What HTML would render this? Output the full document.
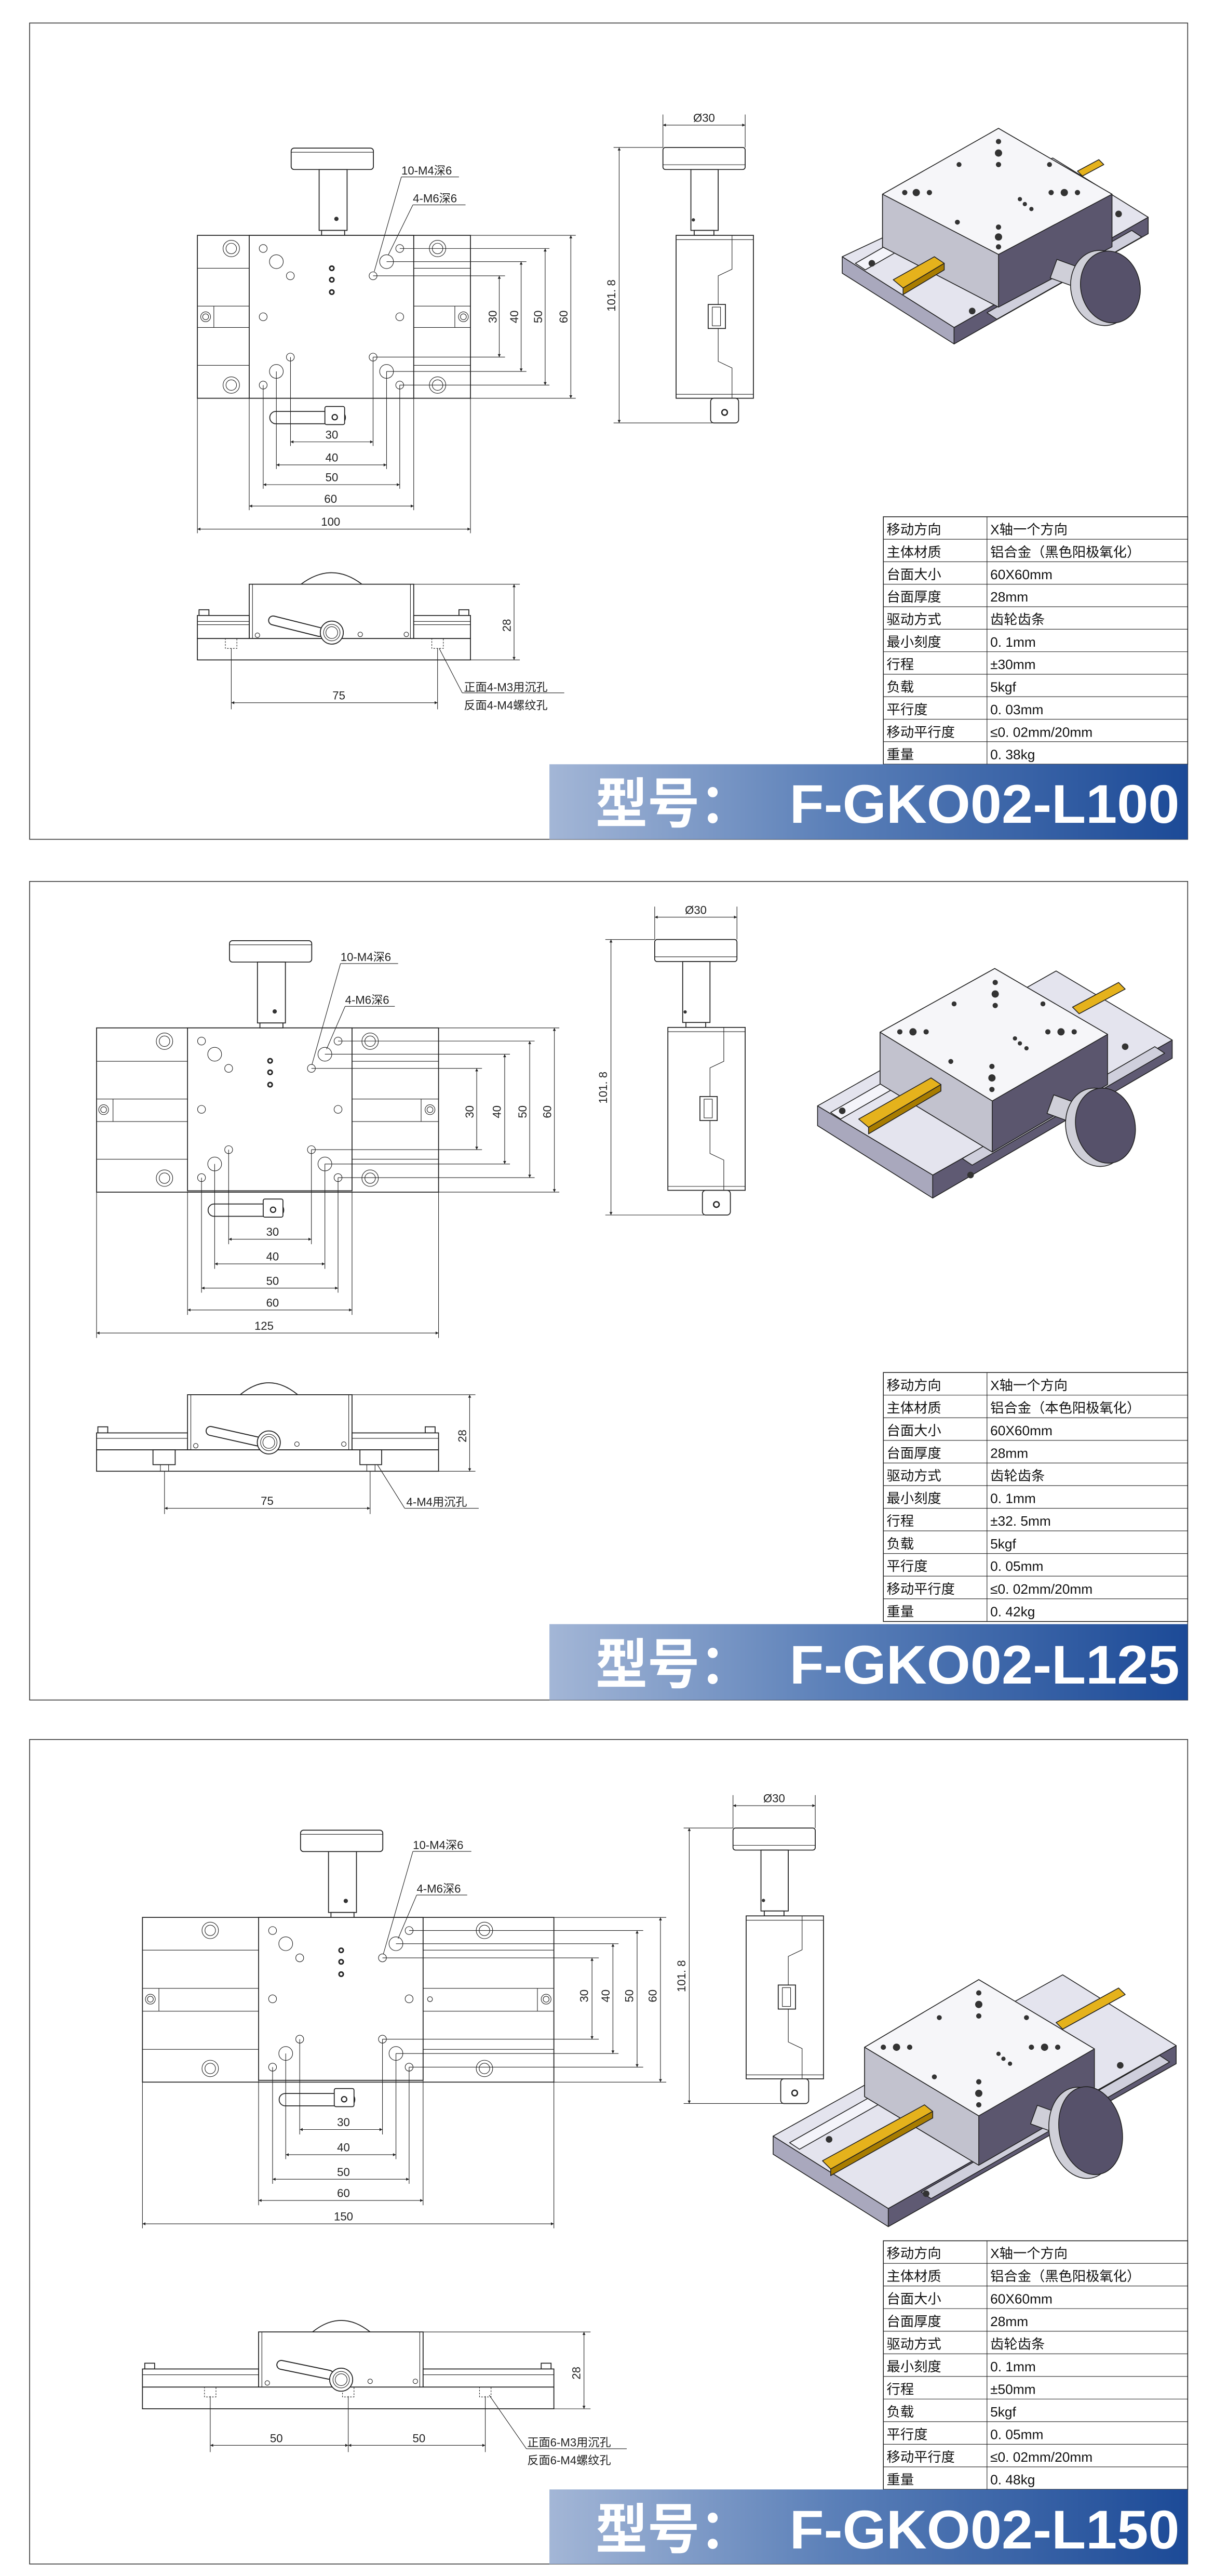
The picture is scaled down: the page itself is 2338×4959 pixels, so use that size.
<!DOCTYPE html>
<html><head><meta charset="utf-8"><style>
html,body{margin:0;padding:0;background:#fff}
svg{display:block}
.t{font-family:"Liberation Sans Narrow","Liberation Sans","Noto Sans CJK SC",sans-serif;font-size:7px;fill:#222}
.c{font-family:"Liberation Sans","Noto Sans CJK SC",sans-serif;font-size:8.3px;fill:#111}
.v{font-family:"Liberation Sans Narrow","Liberation Sans","Noto Sans CJK SC",sans-serif;font-size:8.3px;fill:#111}
.ln{stroke:#222;stroke-width:.35;fill:none}
.ol{stroke:#222;stroke-width:.55;fill:#fff}
.dm{stroke:#222;stroke-width:.35;fill:none;marker-start:url(#ar);marker-end:url(#ar)}
.bn{font-family:"Liberation Sans","Noto Sans CJK SC",sans-serif;font-weight:bold;font-size:33px;fill:#fff}
</style></head><body>
<svg width="2338" height="4959" viewBox="0 0 738 1565.3" preserveAspectRatio="none" xmlns="http://www.w3.org/2000/svg">
<defs>
<marker id="ar" viewBox="0 0 10 10" refX="10" refY="5" markerWidth="3.6" markerHeight="1.8" markerUnits="userSpaceOnUse" orient="auto-start-reverse"><path d="M0,0L10,5L0,10z" fill="#222"/></marker>
<linearGradient id="bg" x1="0" x2="1" y1="0" y2="0"><stop offset="0" stop-color="#a3b6d6"/><stop offset=".45" stop-color="#5a7fb8"/><stop offset="1" stop-color="#1c4a97"/></linearGradient>
<g id="stg">
<rect x="0" y="0" width="100" height="99" class="ol"/>
<g class="ln" stroke-width=".45">
<circle cx="8.5" cy="8" r="2.4"/><circle cx="91.5" cy="8" r="2.4"/>
<circle cx="25" cy="24.6" r="2.4"/><circle cx="75.3" cy="24.6" r="2.4"/>
<circle cx="8.5" cy="49.5" r="2.4"/><circle cx="91.5" cy="49.5" r="2.4"/>
<circle cx="25" cy="74" r="2.4"/><circle cx="75.3" cy="74" r="2.4"/>
<circle cx="8.5" cy="91" r="2.4"/><circle cx="91.5" cy="91" r="2.4"/>
<circle cx="16.5" cy="16" r="4.2"/><circle cx="83.5" cy="16" r="4.2"/>
<circle cx="16.5" cy="82.7" r="4.2"/><circle cx="83.5" cy="82.7" r="4.2"/>
</g>
<g fill="none" stroke="#222" stroke-width=".9"><circle cx="50.2" cy="20" r="1.3"/><circle cx="50.2" cy="27" r="1.3"/><circle cx="50.2" cy="34.5" r="1.3"/></g>
</g>
<g id="knb">
<rect x="25.5" y="-53" width="50" height="13" rx="1.8" class="ol"/>
<line x1="25.5" y1="-50.5" x2="75.5" y2="-50.5" class="ln"/>
<rect x="42.5" y="-40" width="17" height="37" class="ol"/>
<rect x="44" y="-3" width="14" height="3" class="ol"/>
<circle cx="53" cy="-10" r="1.3" fill="#333"/>
<rect x="12.5" y="107" width="46" height="7.5" rx="3.7" class="ol"/>
<rect x="46" y="104" width="12" height="11" rx="1" class="ol"/>
<circle cx="52" cy="110.5" r="1.6" fill="none" stroke="#222" stroke-width=".7"/>
</g>
<g id="sv">
<rect x="0" y="0" width="50" height="13.4" rx="1.5" class="ol"/>
<line x1="0" y1="10.5" x2="50" y2="10.5" class="ln"/>
<rect x="17" y="13.4" width="16.6" height="37" class="ol"/>
<rect x="19" y="50.4" width="12" height="3" class="ol"/>
<circle cx="18.5" cy="44" r="1" fill="#333"/>
<rect x="8" y="53.4" width="47" height="99" class="ol"/>
<line x1="8" y1="56" x2="55" y2="56" class="ln"/><line x1="8" y1="150" x2="55" y2="150" class="ln"/>
<polyline points="42,53.4 42,74 33.6,78 33.6,130 42,134 42,152.4" class="ln"/>
<rect x="27.5" y="95.4" width="10.5" height="14.6" class="ol"/><rect x="30" y="97" width="5" height="11.4" class="ln"/>
<rect x="29" y="152.4" width="17" height="15" rx="2" class="ol"/>
<circle cx="37.5" cy="161" r="1.7" fill="none" stroke="#222" stroke-width=".8"/>
<line x1="0" y1="-20" x2="0" y2="0" class="ln"/><line x1="50" y1="-20" x2="50" y2="0" class="ln"/>
<line x1="0" y1="-13.6" x2="50" y2="-13.6" class="dm"/>
<text x="25" y="-15.6" class="t" text-anchor="middle">Ø30</text>
<line x1="-30" y1="0" x2="0" y2="0" class="ln"/><line x1="-30" y1="167.4" x2="30" y2="167.4" class="ln"/>
<line x1="-26.6" y1="0" x2="-26.6" y2="167.4" class="dm"/>
<text transform="translate(-29,90) rotate(-90)" class="t" text-anchor="middle">101. 8</text>
</g>
</defs>
<rect width="738" height="1565.3" fill="#fff"/>

<!-- ================= PANEL 1 ================= -->
<rect x="18" y="14" width="704" height="496" fill="none" stroke="#333" stroke-width=".5"/>
<!-- top view -->
<rect x="120" y="143" width="166" height="99" class="ol"/>
<g class="ln"><line x1="120" y1="163" x2="151.5" y2="163"/><line x1="120" y1="186" x2="151.5" y2="186"/><line x1="120" y1="199" x2="151.5" y2="199"/><line x1="120" y1="222" x2="151.5" y2="222"/>
<line x1="251.5" y1="163" x2="286" y2="163"/><line x1="251.5" y1="186" x2="286" y2="186"/><line x1="251.5" y1="199" x2="286" y2="199"/><line x1="251.5" y1="222" x2="286" y2="222"/>
<line x1="130" y1="186" x2="130" y2="199"/><line x1="276.5" y1="186" x2="276.5" y2="199"/>
<circle cx="125" cy="192.5" r="3"/><circle cx="125" cy="192.5" r="1.8"/><circle cx="281.7" cy="192.5" r="3"/><circle cx="281.7" cy="192.5" r="1.8"/>
<circle cx="140.6" cy="151" r="5"/><circle cx="140.6" cy="151" r="3.2"/><circle cx="266" cy="151" r="5"/><circle cx="266" cy="151" r="3.2"/>
<circle cx="140.6" cy="234" r="5"/><circle cx="140.6" cy="234" r="3.2"/><circle cx="266" cy="234" r="5"/><circle cx="266" cy="234" r="3.2"/></g>
<use href="#stg" x="151.5" y="143"/><use href="#knb" x="151.5" y="143"/>
<g class="ln">
<line x1="226.8" y1="167.6" x2="307" y2="167.6"/><line x1="226.8" y1="217" x2="307" y2="217"/>
<line x1="235" y1="159" x2="320" y2="159"/><line x1="235" y1="225.7" x2="320" y2="225.7"/>
<line x1="243" y1="151" x2="334" y2="151"/><line x1="243" y1="234" x2="334" y2="234"/>
<line x1="286" y1="143" x2="350" y2="143"/><line x1="286" y1="242" x2="350" y2="242"/>
<line x1="176.6" y1="217" x2="176.6" y2="271"/><line x1="226.8" y1="217" x2="226.8" y2="271"/>
<line x1="168" y1="225.7" x2="168" y2="285"/><line x1="235" y1="225.7" x2="235" y2="285"/>
<line x1="160" y1="234" x2="160" y2="297"/><line x1="243" y1="234" x2="243" y2="297"/>
<line x1="151.5" y1="242" x2="151.5" y2="310"/><line x1="251.5" y1="242" x2="251.5" y2="310"/>
<line x1="120" y1="242" x2="120" y2="324"/><line x1="286" y1="242" x2="286" y2="324"/>
</g>
<line x1="303.5" y1="167.6" x2="303.5" y2="217" class="dm"/><line x1="316.8" y1="159" x2="316.8" y2="225.7" class="dm"/>
<line x1="331.4" y1="151" x2="331.4" y2="234" class="dm"/><line x1="347" y1="143" x2="347" y2="242" class="dm"/>
<text transform="translate(302,192.5) rotate(-90)" class="t" text-anchor="middle">30</text>
<text transform="translate(315,192.5) rotate(-90)" class="t" text-anchor="middle">40</text>
<text transform="translate(329.5,192.5) rotate(-90)" class="t" text-anchor="middle">50</text>
<text transform="translate(345,192.5) rotate(-90)" class="t" text-anchor="middle">60</text>
<line x1="176.6" y1="268.5" x2="226.8" y2="268.5" class="dm"/><line x1="168" y1="282.5" x2="235" y2="282.5" class="dm"/>
<line x1="160" y1="294.5" x2="243" y2="294.5" class="dm"/><line x1="151.5" y1="307.5" x2="251.5" y2="307.5" class="dm"/>
<line x1="120" y1="321.5" x2="286" y2="321.5" class="dm"/>
<text x="201.7" y="266.5" class="t" text-anchor="middle">30</text><text x="201.7" y="280.5" class="t" text-anchor="middle">40</text>
<text x="201.7" y="292.5" class="t" text-anchor="middle">50</text><text x="201" y="305.5" class="t" text-anchor="middle">60</text>
<text x="201" y="319.5" class="t" text-anchor="middle">100</text>
<text x="244" y="106" class="t">10-M4深6</text><line x1="244" y1="107.5" x2="279" y2="107.5" class="ln"/><line x1="244" y1="107.5" x2="227.5" y2="165" class="ln"/>
<text x="251" y="123" class="t">4-M6深6</text><line x1="251" y1="124.5" x2="283" y2="124.5" class="ln"/><line x1="251" y1="124.5" x2="236" y2="155" class="ln"/>
<!-- side view -->
<use href="#sv" x="403" y="89.6"/>
<!-- front view -->
<path d="M183,355 Q201.7,341 220,355" class="ol"/>
<rect x="151.5" y="355" width="100" height="33" class="ol"/>
<line x1="153.5" y1="355" x2="153.5" y2="388" class="ln"/><line x1="249.5" y1="355" x2="249.5" y2="388" class="ln"/>
<rect x="121" y="370.5" width="6" height="3.5" class="ol"/><rect x="279" y="370.5" width="6" height="3.5" class="ol"/>
<rect x="120" y="374" width="31.5" height="14" class="ol"/><rect x="251.5" y="374" width="34.5" height="14" class="ol"/>
<line x1="120" y1="377.6" x2="151.5" y2="377.6" class="ln"/><line x1="251.5" y1="377.6" x2="286" y2="377.6" class="ln"/>
<line x1="120" y1="379.6" x2="151.5" y2="379.6" class="ln"/><line x1="251.5" y1="379.6" x2="286" y2="379.6" class="ln"/>
<rect x="120" y="388" width="166" height="13" class="ol"/>
<g class="ln" stroke-dasharray="1 .8"><rect x="137" y="388" width="7" height="6"/><rect x="262.5" y="388" width="7" height="6"/></g>
<line x1="166" y1="377" x2="194" y2="384" stroke="#222" stroke-width="6" stroke-linecap="round"/><line x1="166" y1="377" x2="194" y2="384" stroke="#fff" stroke-width="4.8" stroke-linecap="round"/>
<circle cx="201.7" cy="384.4" r="7" class="ol"/><circle cx="201.7" cy="384.4" r="5" class="ln"/><circle cx="201.7" cy="384.4" r="3.6" class="ln"/>
<circle cx="156.5" cy="386" r="1.4" class="ln"/><circle cx="219" cy="385.5" r="1.4" class="ln"/><circle cx="247" cy="385.5" r="1.4" class="ln"/>
<line x1="251.5" y1="355" x2="316" y2="355" class="ln"/><line x1="286" y1="401" x2="316" y2="401" class="ln"/>
<line x1="312.5" y1="355" x2="312.5" y2="401" class="dm"/>
<text transform="translate(310.5,380) rotate(-90)" class="t" text-anchor="middle">28</text>
<line x1="140.6" y1="394" x2="140.6" y2="431" class="ln"/><line x1="266" y1="394" x2="266" y2="431" class="ln"/>
<line x1="140.6" y1="427" x2="266" y2="427" class="dm"/><text x="206" y="425" class="t" text-anchor="middle">75</text>
<line x1="267" y1="394" x2="281" y2="421" class="ln"/><line x1="281" y1="421" x2="343" y2="421" class="ln"/>
<text x="282" y="420" class="t">正面4-M3用沉孔</text><text x="282" y="431" class="t">反面4-M4螺纹孔</text>
<!-- 3D -->
<g stroke="#222" stroke-width=".5" stroke-linejoin="round">
<polygon points="512,156 580,199 580,209 512,166" fill="#a9a8bd"/>
<polygon points="580,199 698,132 698,142 580,209" fill="#5f5a73"/>
<polygon points="512,156 580,199 698,132 640,96" fill="#e4e4ee"/>
<polygon points="520,160 560,137 566,141 526,164" fill="#f4f4fa"/><polygon points="600,190 688,140 694,144 606,194" fill="#cfcfdc"/>
<polygon points="607,78 676,118 676,150 607,186.6 536.5,150 536.5,118" fill="#5b566e"/>
<polygon points="536.5,118 607,154.6 607,186.6 536.5,150" fill="#c2c2ce"/>
<polygon points="607,78 676,118 607,154.6 536.5,118" fill="#f6f6f9"/>
<polygon points="543,170 568,156 574,160 549,175" fill="#e5b21c"/><polygon points="549,175 574,160 574,164 549,179" fill="#a87c00"/>
<polygon points="655,104 668,97 671,100 658,107" fill="#e5b21c"/>
<rect x="640" y="160" width="16" height="12" fill="#cfcfd8" transform="rotate(20 648 166)"/>
<ellipse cx="670" cy="175" rx="19" ry="23" fill="#cfcfd8" transform="rotate(-12 670 175)"/>
<ellipse cx="675" cy="174.4" rx="18" ry="22" fill="#56516a" transform="rotate(-12 675 174.4)"/>
</g>
<g fill="#333"><circle cx="607" cy="86" r="1.6"/><circle cx="607" cy="93" r="2.2"/><circle cx="607" cy="100" r="1.6"/>
<circle cx="550" cy="117" r="1.6"/><circle cx="557" cy="117" r="2.2"/><circle cx="565" cy="117" r="1.6"/>
<circle cx="639" cy="117" r="1.6"/><circle cx="647" cy="117" r="2.2"/><circle cx="655" cy="117" r="1.6"/>
<circle cx="620" cy="121" r="1.3"/><circle cx="623" cy="124" r="1.3"/><circle cx="627" cy="127" r="1.3"/>
<circle cx="583" cy="100" r="1.5"/><circle cx="638" cy="100" r="1.5"/><circle cx="582" cy="135" r="1.5"/>
<circle cx="607" cy="138" r="1.6"/><circle cx="607" cy="144" r="2.2"/><circle cx="607" cy="150" r="1.6"/>
<circle cx="530" cy="160" r="2"/><circle cx="591" cy="189" r="2"/><circle cx="680" cy="130" r="2"/></g>
<!-- table -->
<g>
<rect x="537" y="314" width="185" height="150.4" fill="#fff" stroke="#222" stroke-width=".5"/>
<g class="ln" stroke-width=".45">
<line x1="537" y1="327.67" x2="722" y2="327.67"/><line x1="537" y1="341.34" x2="722" y2="341.34"/><line x1="537" y1="355.01" x2="722" y2="355.01"/><line x1="537" y1="368.68" x2="722" y2="368.68"/><line x1="537" y1="382.35" x2="722" y2="382.35"/><line x1="537" y1="396.02" x2="722" y2="396.02"/><line x1="537" y1="409.69" x2="722" y2="409.69"/><line x1="537" y1="423.36" x2="722" y2="423.36"/><line x1="537" y1="437.03" x2="722" y2="437.03"/><line x1="537" y1="450.7" x2="722" y2="450.7"/>
<line x1="600" y1="314" x2="600" y2="464.4"/></g>
<g class="c"><text x="539" y="324.6">移动方向</text><text x="539" y="338.3">主体材质</text><text x="539" y="352">台面大小</text><text x="539" y="365.6">台面厚度</text><text x="539" y="379.3">驱动方式</text><text x="539" y="393">最小刻度</text><text x="539" y="406.6">行程</text><text x="539" y="420.3">负载</text><text x="539" y="434">平行度</text><text x="539" y="447.7">移动平行度</text><text x="539" y="461.3">重量</text></g>
<g class="v"><text x="602" y="324.6">X轴一个方向</text><text x="602" y="338.3">铝合金（黑色阳极氧化）</text><text x="602" y="352">60X60mm</text><text x="602" y="365.6">28mm</text><text x="602" y="379.3">齿轮齿条</text><text x="602" y="393">0. 1mm</text><text x="602" y="406.6">±30mm</text><text x="602" y="420.3">5kgf</text><text x="602" y="434">0. 03mm</text><text x="602" y="447.7">≤0. 02mm/20mm</text><text x="602" y="461.3">0. 38kg</text></g>
</g>
<rect x="334" y="464.4" width="388" height="45.6" fill="url(#bg)"/>
<text x="362" y="500" class="bn" textLength="95" lengthAdjust="spacingAndGlyphs">型号：</text>
<text x="480" y="500" class="bn" textLength="237" lengthAdjust="spacingAndGlyphs">F-GKO02-L100</text>

<!-- ================= PANEL 2 ================= -->
<rect x="18" y="535.6" width="704" height="497.4" fill="none" stroke="#333" stroke-width=".5"/>
<rect x="58.7" y="624.6" width="207.9" height="99.8" class="ol"/>
<g class="ln"><line x1="58.7" y1="644.9" x2="114" y2="644.9"/><line x1="58.7" y1="667.8" x2="114" y2="667.8"/><line x1="58.7" y1="681.5" x2="114" y2="681.5"/><line x1="58.7" y1="704.4" x2="114" y2="704.4"/>
<line x1="214" y1="644.9" x2="266.6" y2="644.9"/><line x1="214" y1="667.8" x2="266.6" y2="667.8"/><line x1="214" y1="681.5" x2="266.6" y2="681.5"/><line x1="214" y1="704.4" x2="266.6" y2="704.4"/>
<line x1="68.7" y1="667.8" x2="68.7" y2="681.5"/><line x1="256" y1="667.8" x2="256" y2="681.5"/>
<circle cx="63" cy="674.3" r="3"/><circle cx="63" cy="674.3" r="1.8"/><circle cx="261.4" cy="674.3" r="3"/><circle cx="261.4" cy="674.3" r="1.8"/>
<circle cx="100" cy="632.7" r="5"/><circle cx="100" cy="632.7" r="3.2"/><circle cx="225" cy="632.7" r="5"/><circle cx="225" cy="632.7" r="3.2"/>
<circle cx="100" cy="715.9" r="5"/><circle cx="100" cy="715.9" r="3.2"/><circle cx="225" cy="715.9" r="5"/><circle cx="225" cy="715.9" r="3.2"/></g>
<use href="#stg" x="114" y="624.6"/><use href="#knb" x="114" y="624.6"/>
<g class="ln">
<line x1="189.3" y1="649.2" x2="293" y2="649.2"/><line x1="189.3" y1="698.6" x2="293" y2="698.6"/>
<line x1="197.5" y1="640.6" x2="310" y2="640.6"/><line x1="197.5" y1="707.3" x2="310" y2="707.3"/>
<line x1="205.5" y1="632.6" x2="325" y2="632.6"/><line x1="205.5" y1="715.6" x2="325" y2="715.6"/>
<line x1="266.6" y1="624.6" x2="340" y2="624.6"/><line x1="266.6" y1="724.4" x2="340" y2="724.4"/>
<line x1="139" y1="698.6" x2="139" y2="756"/><line x1="189.3" y1="698.6" x2="189.3" y2="756"/>
<line x1="130.5" y1="707.3" x2="130.5" y2="771"/><line x1="197.5" y1="707.3" x2="197.5" y2="771"/>
<line x1="122.5" y1="715.6" x2="122.5" y2="785.5"/><line x1="205.5" y1="715.6" x2="205.5" y2="785.5"/>
<line x1="114" y1="724" x2="114" y2="799"/><line x1="214" y1="724" x2="214" y2="799"/>
<line x1="58.7" y1="724.4" x2="58.7" y2="813"/><line x1="266.6" y1="724.4" x2="266.6" y2="813"/>
</g>
<line x1="289.8" y1="649.2" x2="289.8" y2="698.6" class="dm"/><line x1="306.8" y1="640.6" x2="306.8" y2="707.3" class="dm"/>
<line x1="322" y1="632.6" x2="322" y2="715.6" class="dm"/><line x1="337" y1="624.6" x2="337" y2="724.4" class="dm"/>
<text transform="translate(287.8,675.6) rotate(-90)" class="t" text-anchor="middle">30</text>
<text transform="translate(304.5,675.6) rotate(-90)" class="t" text-anchor="middle">40</text>
<text transform="translate(320,675.6) rotate(-90)" class="t" text-anchor="middle">50</text>
<text transform="translate(335,675.6) rotate(-90)" class="t" text-anchor="middle">60</text>
<line x1="139" y1="753" x2="189.3" y2="753" class="dm"/><line x1="130.5" y1="768" x2="197.5" y2="768" class="dm"/>
<line x1="122.5" y1="782.7" x2="205.5" y2="782.7" class="dm"/><line x1="114" y1="796" x2="214" y2="796" class="dm"/>
<line x1="58.7" y1="810" x2="266.6" y2="810" class="dm"/>
<text x="165.7" y="751" class="t" text-anchor="middle">30</text><text x="165.7" y="766" class="t" text-anchor="middle">40</text>
<text x="165.7" y="780.7" class="t" text-anchor="middle">50</text><text x="165.7" y="794" class="t" text-anchor="middle">60</text>
<text x="160.5" y="808" class="t" text-anchor="middle">125</text>
<text x="207" y="584" class="t">10-M4深6</text><line x1="207" y1="585.5" x2="242" y2="585.5" class="ln"/><line x1="207" y1="585.5" x2="189.6" y2="647" class="ln"/>
<text x="209.8" y="610" class="t">4-M6深6</text><line x1="209.8" y1="611.5" x2="240" y2="611.5" class="ln"/><line x1="209.8" y1="611.5" x2="198.5" y2="637.5" class="ln"/>
<use href="#sv" x="398" y="570.9"/>
<path d="M146,847.5 Q163.4,833 181,847.5" class="ol"/>
<rect x="114" y="847.5" width="100" height="33.5" class="ol"/>
<line x1="116" y1="847.5" x2="116" y2="881" class="ln"/><line x1="212" y1="847.5" x2="212" y2="881" class="ln"/>
<rect x="59.5" y="867" width="6" height="3.7" class="ol"/><rect x="258.5" y="867" width="6" height="3.7" class="ol"/>
<rect x="58.7" y="870.7" width="55.3" height="10.3" class="ol"/><rect x="214" y="870.7" width="52.6" height="10.3" class="ol"/>
<line x1="58.7" y1="874" x2="114" y2="874" class="ln"/><line x1="214" y1="874" x2="266.6" y2="874" class="ln"/>
<rect x="58.7" y="881" width="207.9" height="13" class="ol"/>
<rect x="93" y="881" width="13.5" height="9" class="ol"/><rect x="218.8" y="881" width="13.2" height="9" class="ol"/>
<rect x="97.5" y="890" width="5" height="4" class="ln"/><rect x="223" y="890" width="5" height="4" class="ln"/>
<line x1="128" y1="869.5" x2="157" y2="876" stroke="#222" stroke-width="6" stroke-linecap="round"/><line x1="128" y1="869.5" x2="157" y2="876" stroke="#fff" stroke-width="4.8" stroke-linecap="round"/>
<circle cx="163.4" cy="876.5" r="7" class="ol"/><circle cx="163.4" cy="876.5" r="5" class="ln"/><circle cx="163.4" cy="876.5" r="3.6" class="ln"/>
<circle cx="119" cy="878.5" r="1.4" class="ln"/><circle cx="180.5" cy="877.5" r="1.4" class="ln"/><circle cx="209" cy="877.5" r="1.4" class="ln"/>
<line x1="214" y1="847.5" x2="289" y2="847.5" class="ln"/><line x1="266.6" y1="894" x2="289" y2="894" class="ln"/>
<line x1="285.5" y1="847.5" x2="285.5" y2="894" class="dm"/>
<text transform="translate(283.5,872.6) rotate(-90)" class="t" text-anchor="middle">28</text>
<line x1="100" y1="894" x2="100" y2="920" class="ln"/><line x1="225" y1="894" x2="225" y2="920" class="ln"/>
<line x1="100" y1="916.5" x2="225" y2="916.5" class="dm"/><text x="162.4" y="914.5" class="t" text-anchor="middle">75</text>
<line x1="229.6" y1="890.3" x2="246" y2="916.5" class="ln"/><line x1="246" y1="916.5" x2="291" y2="916.5" class="ln"/>
<text x="247" y="915" class="t">4-M4用沉孔</text>
<g stroke="#222" stroke-width=".5" stroke-linejoin="round">
<polygon points="497,672 567,714 567,728 497,684" fill="#a9a8bd"/>
<polygon points="567,714 712.6,632 712.6,643 567,728" fill="#5f5a73"/>
<polygon points="497,672 567,714 712.6,632 642,590" fill="#e4e4ee"/>
<polygon points="505,676 545,653 551,657 511,680" fill="#f4f4fa"/><polygon points="585,704 702,636 708,640 591,708" fill="#cfcfdc"/>
<polygon points="604.7,588.5 673.3,628.5 673.3,659 603.2,700 535,658.6 535,627.2" fill="#5b566e"/>
<polygon points="535,627.2 603.2,669 603.2,700 535,658.6" fill="#c2c2ce"/>
<polygon points="604.7,588.5 673.3,628.5 603.2,669 535,627.2" fill="#f6f6f9"/>
<polygon points="522,680 566,655 572,659 528,685" fill="#e5b21c"/><polygon points="528,685 572,659 572,663 528,689" fill="#a87c00"/>
<polygon points="652,612 680,597 684,601 656,616" fill="#e5b21c"/>
<rect x="638" y="668" width="18" height="12" fill="#cfcfd8" transform="rotate(20 647 674)"/>
<ellipse cx="667" cy="685" rx="19" ry="24" fill="#cfcfd8" transform="rotate(-12 667 685)"/>
<ellipse cx="672" cy="684" rx="18" ry="23" fill="#56516a" transform="rotate(-12 672 684)"/>
</g>
<g fill="#333"><circle cx="605" cy="597" r="1.6"/><circle cx="605" cy="604" r="2.2"/><circle cx="605" cy="611" r="1.6"/>
<circle cx="547" cy="627" r="1.6"/><circle cx="555" cy="627" r="2.2"/><circle cx="563" cy="627" r="1.6"/>
<circle cx="637" cy="627" r="1.6"/><circle cx="645" cy="627" r="2.2"/><circle cx="653" cy="627" r="1.6"/>
<circle cx="617" cy="631" r="1.3"/><circle cx="620" cy="634" r="1.3"/><circle cx="624" cy="637" r="1.3"/>
<circle cx="580" cy="610" r="1.5"/><circle cx="634" cy="610" r="1.5"/><circle cx="578" cy="645" r="1.5"/>
<circle cx="603" cy="648" r="1.6"/><circle cx="603" cy="655" r="2.2"/><circle cx="603" cy="662" r="1.6"/>
<circle cx="512" cy="675" r="2"/><circle cx="590" cy="714" r="2"/><circle cx="684" cy="636" r="2"/></g>
<g>
<rect x="537" y="834" width="185" height="151.3" fill="#fff" stroke="#222" stroke-width=".5"/>
<g class="ln" stroke-width=".45">
<line x1="537" y1="847.75" x2="722" y2="847.75"/><line x1="537" y1="861.5" x2="722" y2="861.5"/><line x1="537" y1="875.25" x2="722" y2="875.25"/><line x1="537" y1="889" x2="722" y2="889"/><line x1="537" y1="902.75" x2="722" y2="902.75"/><line x1="537" y1="916.5" x2="722" y2="916.5"/><line x1="537" y1="930.25" x2="722" y2="930.25"/><line x1="537" y1="944" x2="722" y2="944"/><line x1="537" y1="957.75" x2="722" y2="957.75"/><line x1="537" y1="971.5" x2="722" y2="971.5"/>
<line x1="600" y1="834" x2="600" y2="985.3"/></g>
<g class="c"><text x="539" y="844.6">移动方向</text><text x="539" y="858.4">主体材质</text><text x="539" y="872.1">台面大小</text><text x="539" y="885.9">台面厚度</text><text x="539" y="899.6">驱动方式</text><text x="539" y="913.4">最小刻度</text><text x="539" y="927.1">行程</text><text x="539" y="940.9">负载</text><text x="539" y="954.6">平行度</text><text x="539" y="968.4">移动平行度</text><text x="539" y="982.1">重量</text></g>
<g class="v"><text x="602" y="844.6">X轴一个方向</text><text x="602" y="858.4">铝合金（本色阳极氧化）</text><text x="602" y="872.1">60X60mm</text><text x="602" y="885.9">28mm</text><text x="602" y="899.6">齿轮齿条</text><text x="602" y="913.4">0. 1mm</text><text x="602" y="927.1">±32. 5mm</text><text x="602" y="940.9">5kgf</text><text x="602" y="954.6">0. 05mm</text><text x="602" y="968.4">≤0. 02mm/20mm</text><text x="602" y="982.1">0. 42kg</text></g>
</g>
<rect x="334" y="986.9" width="388" height="46.1" fill="url(#bg)"/>
<text x="362" y="1023" class="bn" textLength="95" lengthAdjust="spacingAndGlyphs">型号：</text>
<text x="480" y="1023" class="bn" textLength="237" lengthAdjust="spacingAndGlyphs">F-GKO02-L125</text>

<!-- ================= PANEL 3 ================= -->
<rect x="18" y="1057" width="704" height="501" fill="none" stroke="#333" stroke-width=".5"/>
<rect x="86.6" y="1165.1" width="250.1" height="100.1" class="ol"/>
<g class="ln"><line x1="86.6" y1="1185" x2="157.2" y2="1185"/><line x1="86.6" y1="1208.2" x2="157.2" y2="1208.2"/><line x1="86.6" y1="1222.1" x2="157.2" y2="1222.1"/><line x1="86.6" y1="1245.3" x2="157.2" y2="1245.3"/>
<line x1="257.2" y1="1185" x2="336.7" y2="1185"/><line x1="257.2" y1="1208.2" x2="336.7" y2="1208.2"/><line x1="257.2" y1="1222.1" x2="336.7" y2="1222.1"/><line x1="257.2" y1="1245.3" x2="336.7" y2="1245.3"/>
<line x1="96.6" y1="1208.2" x2="96.6" y2="1222.1"/><line x1="326.7" y1="1208.2" x2="326.7" y2="1222.1"/>
<circle cx="91.4" cy="1214.8" r="3"/><circle cx="91.4" cy="1214.8" r="1.8"/><circle cx="332" cy="1214.8" r="3"/><circle cx="332" cy="1214.8" r="1.8"/>
<circle cx="261.4" cy="1214.8" r="1.5"/>
<circle cx="127.8" cy="1173" r="5"/><circle cx="127.8" cy="1173" r="3.2"/><circle cx="294.5" cy="1173" r="5"/><circle cx="294.5" cy="1173" r="3.2"/>
<circle cx="127.8" cy="1256.9" r="5"/><circle cx="127.8" cy="1256.9" r="3.2"/><circle cx="294.5" cy="1256.9" r="5"/><circle cx="294.5" cy="1256.9" r="3.2"/></g>
<use href="#stg" x="157.2" y="1165.1"/><use href="#knb" x="157.2" y="1165.1"/>
<g class="ln">
<line x1="232.5" y1="1189.7" x2="364" y2="1189.7"/><line x1="232.5" y1="1239.1" x2="364" y2="1239.1"/>
<line x1="240.7" y1="1181.1" x2="376" y2="1181.1"/><line x1="240.7" y1="1247.8" x2="376" y2="1247.8"/>
<line x1="248.7" y1="1173.1" x2="391" y2="1173.1"/><line x1="248.7" y1="1256.1" x2="391" y2="1256.1"/>
<line x1="336.7" y1="1165.1" x2="405" y2="1165.1"/><line x1="336.7" y1="1265.2" x2="405" y2="1265.2"/>
<line x1="182.2" y1="1239.1" x2="182.2" y2="1297"/><line x1="232.5" y1="1239.1" x2="232.5" y2="1297"/>
<line x1="173.7" y1="1247.8" x2="173.7" y2="1312"/><line x1="240.7" y1="1247.8" x2="240.7" y2="1312"/>
<line x1="165.7" y1="1256.1" x2="165.7" y2="1327"/><line x1="248.7" y1="1256.1" x2="248.7" y2="1327"/>
<line x1="157.2" y1="1264" x2="157.2" y2="1340"/><line x1="257.2" y1="1264" x2="257.2" y2="1340"/>
<line x1="86.6" y1="1265.2" x2="86.6" y2="1354"/><line x1="336.7" y1="1265.2" x2="336.7" y2="1354"/>
</g>
<line x1="359.9" y1="1189.7" x2="359.9" y2="1239.1" class="dm"/><line x1="372.6" y1="1181.1" x2="372.6" y2="1247.8" class="dm"/>
<line x1="387.3" y1="1173.1" x2="387.3" y2="1256.1" class="dm"/><line x1="401.5" y1="1165.1" x2="401.5" y2="1265.2" class="dm"/>
<text transform="translate(357.5,1212.8) rotate(-90)" class="t" text-anchor="middle">30</text>
<text transform="translate(370.5,1212.8) rotate(-90)" class="t" text-anchor="middle">40</text>
<text transform="translate(385,1212.8) rotate(-90)" class="t" text-anchor="middle">50</text>
<text transform="translate(399.2,1212.8) rotate(-90)" class="t" text-anchor="middle">60</text>
<line x1="182.2" y1="1294" x2="232.5" y2="1294" class="dm"/><line x1="173.7" y1="1309.3" x2="240.7" y2="1309.3" class="dm"/>
<line x1="165.7" y1="1324.2" x2="248.7" y2="1324.2" class="dm"/><line x1="157.2" y1="1337.1" x2="257.2" y2="1337.1" class="dm"/>
<line x1="86.6" y1="1351.3" x2="336.7" y2="1351.3" class="dm"/>
<text x="208.8" y="1292" class="t" text-anchor="middle">30</text><text x="208.8" y="1307.3" class="t" text-anchor="middle">40</text>
<text x="208.8" y="1322.2" class="t" text-anchor="middle">50</text><text x="208.8" y="1335.1" class="t" text-anchor="middle">60</text>
<text x="208.8" y="1349.3" class="t" text-anchor="middle">150</text>
<text x="251" y="1123.5" class="t">10-M4深6</text><line x1="251" y1="1125" x2="286.5" y2="1125" class="ln"/><line x1="251" y1="1125" x2="233" y2="1187.5" class="ln"/>
<text x="253.3" y="1150" class="t">4-M6深6</text><line x1="253.3" y1="1151.5" x2="284" y2="1151.5" class="ln"/><line x1="253.3" y1="1151.5" x2="242" y2="1178" class="ln"/>
<use href="#sv" x="445.6" y="1110.8"/>
<path d="M190,1417 Q207.4,1403 225,1417" class="ol"/>
<rect x="157.2" y="1417" width="100" height="33.5" class="ol"/>
<line x1="159.2" y1="1417" x2="159.2" y2="1450.5" class="ln"/><line x1="255.2" y1="1417" x2="255.2" y2="1450.5" class="ln"/>
<rect x="88" y="1436" width="6" height="3.5" class="ol"/><rect x="329" y="1436" width="6" height="3.5" class="ol"/>
<rect x="86.6" y="1439.5" width="70.6" height="11" class="ol"/><rect x="257.2" y="1439.5" width="79.5" height="11" class="ol"/>
<line x1="86.6" y1="1443" x2="157.2" y2="1443" class="ln"/><line x1="257.2" y1="1443" x2="336.7" y2="1443" class="ln"/>
<rect x="86.6" y="1450.5" width="250.1" height="13.2" class="ol"/>
<g class="ln" stroke-dasharray="1 .8"><rect x="124.3" y="1450.5" width="7" height="6"/><rect x="208.2" y="1450.5" width="7" height="6"/><rect x="291.5" y="1450.5" width="7" height="6"/></g>
<line x1="171" y1="1437" x2="200" y2="1443" stroke="#222" stroke-width="6" stroke-linecap="round"/><line x1="171" y1="1437" x2="200" y2="1443" stroke="#fff" stroke-width="4.8" stroke-linecap="round"/>
<circle cx="207.4" cy="1446" r="7" class="ol"/><circle cx="207.4" cy="1446" r="5" class="ln"/><circle cx="207.4" cy="1446" r="3.6" class="ln"/>
<circle cx="162.5" cy="1448" r="1.4" class="ln"/><circle cx="225" cy="1447" r="1.4" class="ln"/><circle cx="252.5" cy="1447" r="1.4" class="ln"/>
<line x1="257.2" y1="1417" x2="359" y2="1417" class="ln"/><line x1="336.7" y1="1463.7" x2="359" y2="1463.7" class="ln"/>
<line x1="355" y1="1417" x2="355" y2="1463.7" class="dm"/>
<text transform="translate(352.8,1442) rotate(-90)" class="t" text-anchor="middle">28</text>
<line x1="127.8" y1="1456" x2="127.8" y2="1490" class="ln"/><line x1="211.7" y1="1456" x2="211.7" y2="1490" class="ln"/><line x1="295" y1="1456" x2="295" y2="1490" class="ln"/>
<line x1="127.8" y1="1485.9" x2="211.7" y2="1485.9" class="dm"/><line x1="211.7" y1="1485.9" x2="295" y2="1485.9" class="dm"/>
<text x="168" y="1484" class="t" text-anchor="middle">50</text><text x="254.7" y="1484" class="t" text-anchor="middle">50</text>
<line x1="297.4" y1="1455.4" x2="320" y2="1488" class="ln"/><line x1="320" y1="1488" x2="381" y2="1488" class="ln"/>
<text x="320.5" y="1486.5" class="t">正面6-M3用沉孔</text><text x="320.5" y="1497.5" class="t">反面6-M4螺纹孔</text>
<g stroke="#222" stroke-width=".5" stroke-linejoin="round">
<polygon points="470,1298 540,1342 540,1353 470,1309" fill="#a9a8bd"/>
<polygon points="540,1342 715,1243 715,1254 540,1353" fill="#5f5a73"/>
<polygon points="470,1298 540,1342 715,1243 646,1200" fill="#e4e4ee"/>
<polygon points="480,1302 540,1268 546,1272 486,1306" fill="#f4f4fa"/><polygon points="560,1332 705,1249 711,1253 566,1336" fill="#cfcfdc"/>
<polygon points="595,1202.9 665.3,1245 665.3,1275 595,1315.7 525.6,1274 525.6,1244" fill="#5b566e"/>
<polygon points="525.6,1244 595,1285.7 595,1315.7 525.6,1274" fill="#c2c2ce"/>
<polygon points="595,1202.9 665.3,1245 595,1285.7 525.6,1244" fill="#f6f6f9"/>
<polygon points="500,1313 562,1279 567,1283 505,1318" fill="#e5b21c"/><polygon points="505,1318 567,1283 567,1287 505,1322" fill="#a87c00"/>
<polygon points="642,1229 680,1208 684,1212 646,1233" fill="#e5b21c"/>
<rect x="628" y="1282" width="18" height="12" fill="#cfcfd8" transform="rotate(20 637 1288)"/>
<ellipse cx="658" cy="1296" rx="20" ry="28" fill="#cfcfd8" transform="rotate(-12 658 1296)"/>
<ellipse cx="663" cy="1294.7" rx="19" ry="27" fill="#56516a" transform="rotate(-12 663 1294.7)"/>
</g>
<g fill="#333"><circle cx="595" cy="1211" r="1.6"/><circle cx="595" cy="1218" r="2.2"/><circle cx="595" cy="1225" r="1.6"/>
<circle cx="537" cy="1244" r="1.6"/><circle cx="545" cy="1244" r="2.2"/><circle cx="553" cy="1244" r="1.6"/>
<circle cx="627" cy="1244" r="1.6"/><circle cx="635" cy="1244" r="2.2"/><circle cx="643" cy="1244" r="1.6"/>
<circle cx="607" cy="1248" r="1.3"/><circle cx="610" cy="1251" r="1.3"/><circle cx="614" cy="1254" r="1.3"/>
<circle cx="571" cy="1226" r="1.5"/><circle cx="624" cy="1226" r="1.5"/><circle cx="568" cy="1262" r="1.5"/>
<circle cx="595" cy="1265" r="1.6"/><circle cx="595" cy="1272" r="2.2"/><circle cx="595" cy="1279" r="1.6"/>
<circle cx="504" cy="1300" r="2"/><circle cx="563" cy="1333" r="2"/><circle cx="681" cy="1255" r="2"/></g>
<g>
<rect x="537" y="1361.6" width="185" height="151.1" fill="#fff" stroke="#222" stroke-width=".5"/>
<g class="ln" stroke-width=".45">
<line x1="537" y1="1375.34" x2="722" y2="1375.34"/><line x1="537" y1="1389.08" x2="722" y2="1389.08"/><line x1="537" y1="1402.82" x2="722" y2="1402.82"/><line x1="537" y1="1416.56" x2="722" y2="1416.56"/><line x1="537" y1="1430.3" x2="722" y2="1430.3"/><line x1="537" y1="1444.04" x2="722" y2="1444.04"/><line x1="537" y1="1457.78" x2="722" y2="1457.78"/><line x1="537" y1="1471.52" x2="722" y2="1471.52"/><line x1="537" y1="1485.26" x2="722" y2="1485.26"/><line x1="537" y1="1499" x2="722" y2="1499"/>
<line x1="600" y1="1361.6" x2="600" y2="1512.7"/></g>
<g class="c"><text x="539" y="1372.2">移动方向</text><text x="539" y="1386">主体材质</text><text x="539" y="1399.7">台面大小</text><text x="539" y="1413.5">台面厚度</text><text x="539" y="1427.2">驱动方式</text><text x="539" y="1440.9">最小刻度</text><text x="539" y="1454.7">行程</text><text x="539" y="1468.4">负载</text><text x="539" y="1482.1">平行度</text><text x="539" y="1495.9">移动平行度</text><text x="539" y="1509.6">重量</text></g>
<g class="v"><text x="602" y="1372.2">X轴一个方向</text><text x="602" y="1386">铝合金（黑色阳极氧化）</text><text x="602" y="1399.7">60X60mm</text><text x="602" y="1413.5">28mm</text><text x="602" y="1427.2">齿轮齿条</text><text x="602" y="1440.9">0. 1mm</text><text x="602" y="1454.7">±50mm</text><text x="602" y="1468.4">5kgf</text><text x="602" y="1482.1">0. 05mm</text><text x="602" y="1495.9">≤0. 02mm/20mm</text><text x="602" y="1509.6">0. 48kg</text></g>
</g>
<rect x="334" y="1512.7" width="388" height="45.3" fill="url(#bg)"/>
<text x="362" y="1548.5" class="bn" textLength="95" lengthAdjust="spacingAndGlyphs">型号：</text>
<text x="480" y="1548.5" class="bn" textLength="237" lengthAdjust="spacingAndGlyphs">F-GKO02-L150</text>
</svg>
</body></html>
